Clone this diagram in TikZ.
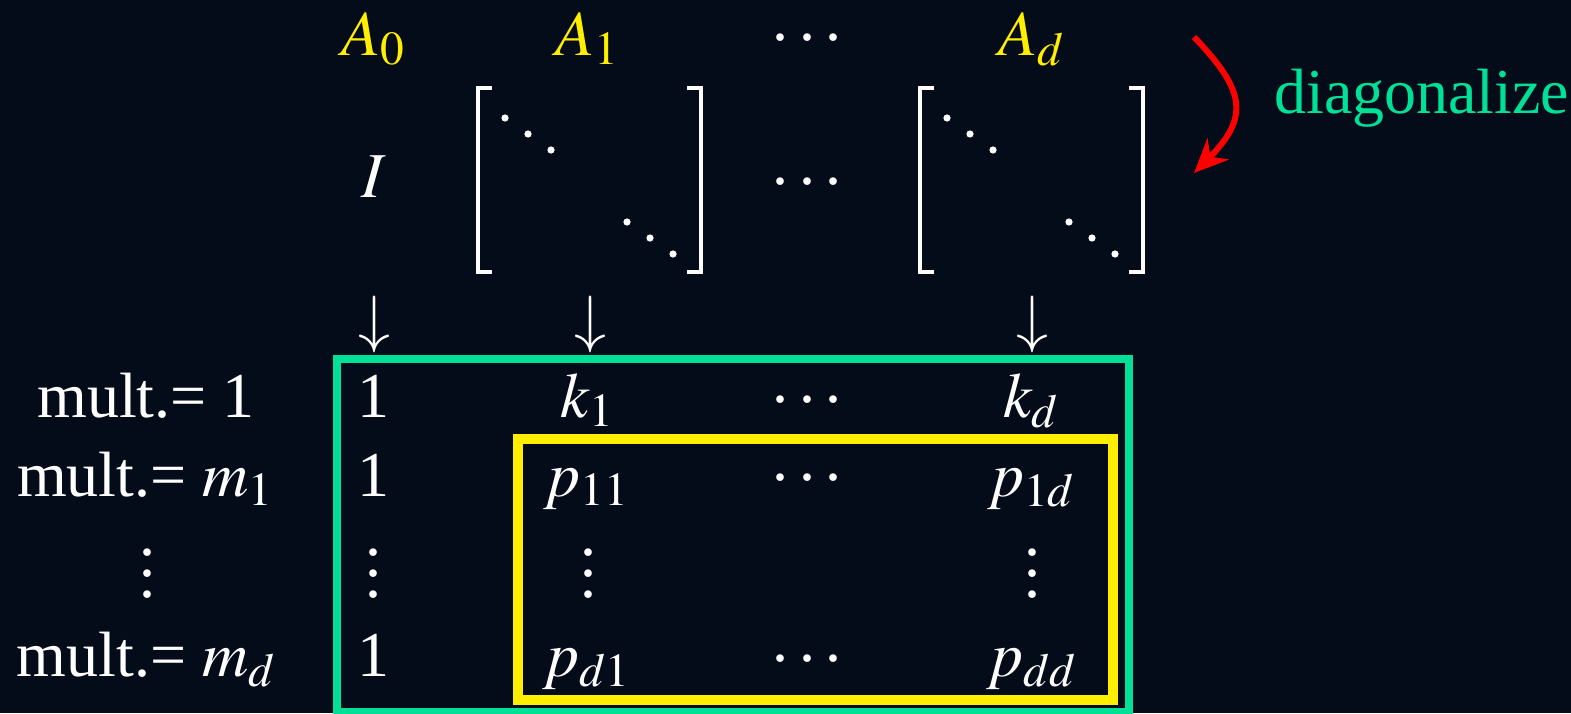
\documentclass[tikz,border=0pt]{standalone}
\usepackage{mathptmx}
\usepackage{fontspec}
\setmainfont{Liberation Serif}
\usetikzlibrary{arrows.meta}
\definecolor{bgc}{RGB}{4,11,25}
\definecolor{grn}{RGB}{0,224,150}
\definecolor{ylw}{RGB}{255,238,0}
\newcommand{\hdotz}{.\kern10.5pt.\kern10.5pt.}
\newcommand{\vdotz}{\vbox{\baselineskip=21pt\lineskiplimit=-100pt\hbox{.}\hbox{.}\hbox{.}}}
\tikzset{
  txt/.style={text=white, font=\fontsize{64}{76}\selectfont, inner sep=0pt, anchor=base},
  head/.style={txt, text=ylw},
  brk/.style={white, line width=4pt, line join=miter},
}
\begin{document}
\begin{tikzpicture}[x=1pt,y=-1pt]
\fill[bgc] (0,0) rectangle (1571,713);
\useasboundingbox (0,0) rectangle (1571,713);
% heads
\node[head] (a0) at (373,55) {$A_0$};
\node[head] (a1) at (587,55) {$A_1$};
\node[txt] (hdots) at (807,40.5) {\hdotz};
\node[head] (ad) at (1031,55) {$A_d$};
% matrices
\node[txt] (id) at (374,197) {$I$};
\node[txt] (mdots) at (807,184.5) {\hdotz};
\foreach \s in {0,442}{
  \begin{scope}[xshift=\s]
    \draw[brk] (492,88) -- (478,88) -- (478,272) -- (492,272);
    \draw[brk] (687,88) -- (701,88) -- (701,272) -- (687,272);
    \foreach \x/\y in {505/118,528/134,551/150,627/222,650/238,673/254}
      \fill[white] (\x,\y) circle(3.6pt);
  \end{scope}
}
\draw[red, line width=6pt, -{Stealth[length=34pt,width=30pt,inset=11pt]}]
  (1194,37) .. controls (1245,90) and (1250,117) .. (1194,173);
\node[txt, text=grn, anchor=base west] (diag) at (1274,113) {diagonalize};
% arrows down
\node[txt] (d0) at (374,340) {$\downarrow$};
\node[txt] (d1) at (590,340) {$\downarrow$};
\node[txt] (d2) at (1032,340) {$\downarrow$};
% boxes
\draw[grn, line width=8pt] (337,359) rectangle (1129,712);
\draw[ylw, line width=10pt] (518,439) rectangle (1113,700);
% rows
\node[txt] (m0) at (146,417) {mult.= 1};
\node[txt] (r10) at (373,417) {1};
\node[txt] (k1) at (587,417) {$k_1$};
\node[txt] (r1dots) at (807,402.5) {\hdotz};
\node[txt] (kd) at (1031,417) {$k_d$};
\node[txt] (m1) at (145,496) {mult.= $m_1$};
\node[txt] (r20) at (373,496) {1};
\node[txt] (p11) at (586,496) {$p_{11}$};
\node[txt] (r2dots) at (807,480.5) {\hdotz};
\node[txt] (p1d) at (1031,496) {$p_{1d}$};
\foreach \x/\n in {147/v0,373/v1,588/v2,1032/v3}
  \node[txt] (\n) at (\x,597.5) {\vdotz};
\node[txt] (md) at (146,676) {mult.= $m_d$};
\node[txt] (r40) at (373,676) {1};
\node[txt] (pd1) at (586,676) {$p_{d1}$};
\node[txt] (r4dots) at (807,661.5) {\hdotz};
\node[txt] (pdd) at (1031,676) {$p_{dd}$};
\end{tikzpicture}
\end{document}
